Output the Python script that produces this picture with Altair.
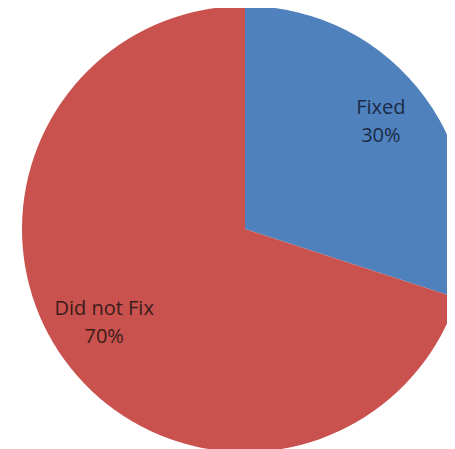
import altair as alt
import pandas as pd

categories = ["Fixed", "Did not Fix"]
values = [30, 70]
percent_labels = ["30%", "70%"]
colors = ["#4F81BD", "#C9524E"]
text_colors = ["#1B2B47", "#3A1C1A"]

df = pd.DataFrame({
    "category": categories,
    "value": values,
    "order": list(range(len(categories))),
    "label": [f"{c}\n{p}" for c, p in zip(categories, percent_labels)],
})

W, H = 439, 441
CX, CY = 237, 221

base = alt.Chart(df).encode(
    theta=alt.Theta("value:Q", stack=True),
    order=alt.Order("order:Q"),
)

pie = base.mark_arc(stroke=None).encode(
    color=alt.Color("category:N", scale=alt.Scale(domain=categories, range=colors), legend=None),
    radius=alt.value(223),
    x=alt.value(CX),
    y=alt.value(CY),
)

labels = base.mark_text(
    lineBreak="\n", align="center", baseline="middle", font="Open Sans", fontSize=20, lineHeight=28,
    dx=15, dy=-20,
).encode(
    text="label:N",
    radius=alt.value(171),
    color=alt.Color("category:N", scale=alt.Scale(domain=categories, range=text_colors), legend=None),
)

chart = alt.layer(pie, labels).resolve_scale(color="independent").properties(
    width=W, height=H, autosize=alt.AutoSizeParams(type="none"), padding=0
).configure_view(stroke=None)

chart.save("out.html", embed_options={"renderer": "svg", "actions": False})
